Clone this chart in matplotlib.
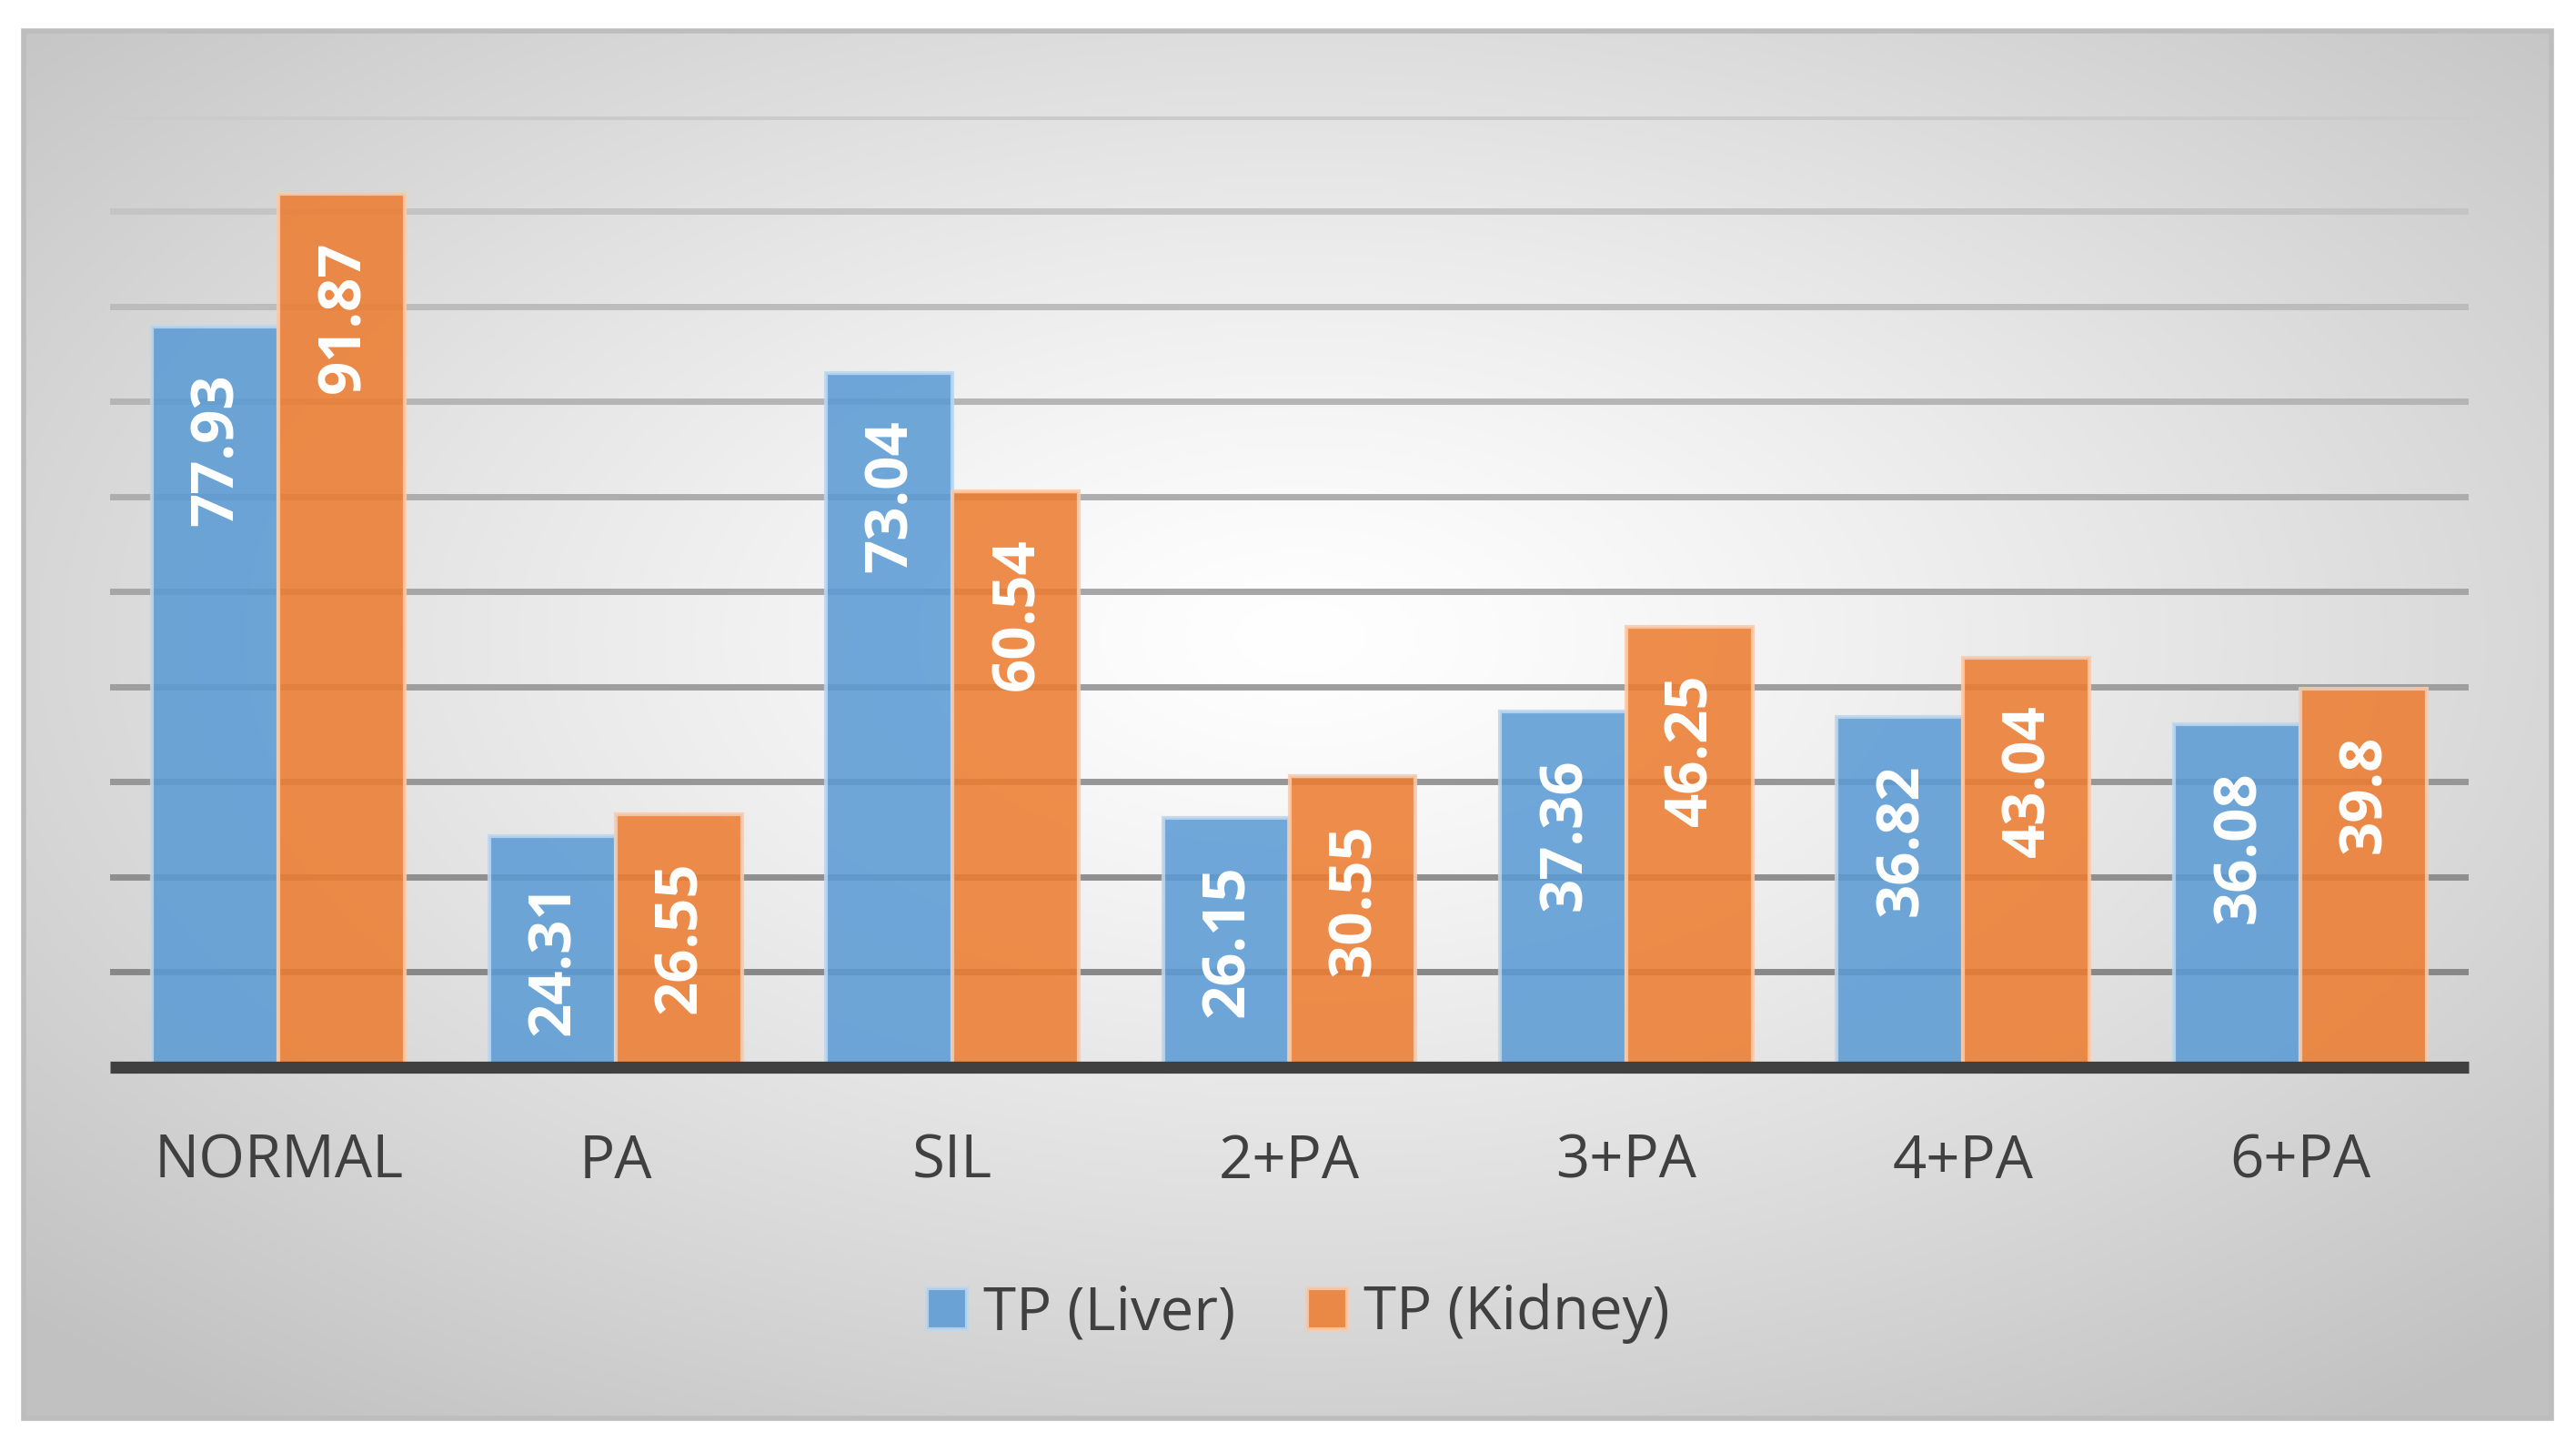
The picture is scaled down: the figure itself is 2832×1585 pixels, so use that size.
import numpy as np
import matplotlib
matplotlib.use("Agg")
import matplotlib.pyplot as plt
from matplotlib.patches import Rectangle

categories = ["NORMAL", "PA", "SIL", "2+PA", "3+PA", "4+PA", "6+PA"]
liver = [77.93, 24.31, 73.04, 26.15, 37.36, 36.82, 36.08]
kidney = [91.87, 26.55, 60.54, 30.55, 46.25, 43.04, 39.8]
grid_values = [10, 20, 30, 40, 50, 60, 70, 80, 90, 100]

plt.rcParams['font.family'] = ['Open Sans', 'DejaVu Sans']

W, H = 2832, 1585
fig = plt.figure(figsize=(W / 100, H / 100), dpi=100)

# background panel with radial gradient (pixel coords)
bg = fig.add_axes([0, 0, 1, 1], zorder=0)
bg.set_xlim(0, W)
bg.set_ylim(H, 0)
bg.axis("off")
px0, py0, px1, py1 = 26, 34, 2805, 1559
xx, yy = np.meshgrid(np.linspace(px0, px1, 600), np.linspace(py0, py1, 340))
cx, cy = 1430, 700
d = np.sqrt(((xx - cx) / ((px1 - px0) / 2)) ** 2 + ((yy - cy) / ((py1 - py0) / 2)) ** 2)
shade = 255 - 62 * np.clip(d / 1.42, 0, 1) ** 1.25
img = np.dstack([shade, shade, shade]) / 255.0
bg.imshow(img, extent=(px0, px1, py1, py0), aspect="auto", interpolation="bilinear")
bg.add_patch(Rectangle((px0, py0), px1 - px0, py1 - py0, fill=False,
                       edgecolor="#bdbdbd", linewidth=4))

ax = fig.add_axes([121 / W, 1 - 1172.5 / H, (2714 - 121) / W, (1172.5 - 128) / H], zorder=1)
ax.patch.set_alpha(0)
for s in ax.spines.values():
    s.set_visible(False)

x = np.arange(len(categories))
bw = 0.375

# gridlines, darker towards the bottom
for i, g in enumerate(grid_values):
    t = i / (len(grid_values) - 1)
    c = 0x88 + t * (0xcb - 0x88)
    ax.axhline(g, color=(c / 255, c / 255, c / 255), linewidth=5, zorder=0)

b1 = ax.bar(x - bw / 2, liver, bw, color="#5b9bd5", alpha=0.87,
            edgecolor="#bdd7ee", linewidth=3, zorder=2, label="TP (Liver)")
b2 = ax.bar(x + bw / 2, kidney, bw, color="#ed7d31", alpha=0.87,
            edgecolor="#f8cbad", linewidth=3, zorder=2, label="TP (Kidney)")

for bars, vals in ((b1, liver), (b2, kidney)):
    for rect, v in zip(bars, vals):
        ax.annotate(str(v), (rect.get_x() + rect.get_width() / 2, v),
                    xytext=(2, -37), textcoords="offset points",
                    rotation=90, ha="center", va="top",
                    color="white", fontsize=47, fontweight="bold", zorder=4)

ax.plot([-0.5, 6.5], [0, 0], color="#404040", linewidth=9.5,
        solid_capstyle="butt", clip_on=False, zorder=3)

ax.set_xlim(-0.5, 6.5)
ax.set_ylim(0, 100)
ax.set_yticks([])
ax.set_xticks(x)
ax.set_xticklabels(categories, fontsize=47, color="#404040")
ax.tick_params(axis="x", length=0, pad=52)

leg = fig.legend(handles=[b1, b2], loc="center", bbox_to_anchor=(0.504, 0.089),
                 ncol=2, frameon=False, fontsize=47, handlelength=0.68,
                 handleheight=0.68, handletextpad=0.28, columnspacing=1.2,
                 labelcolor="#404040")

fig.savefig("out.png", dpi=100, facecolor="white")
